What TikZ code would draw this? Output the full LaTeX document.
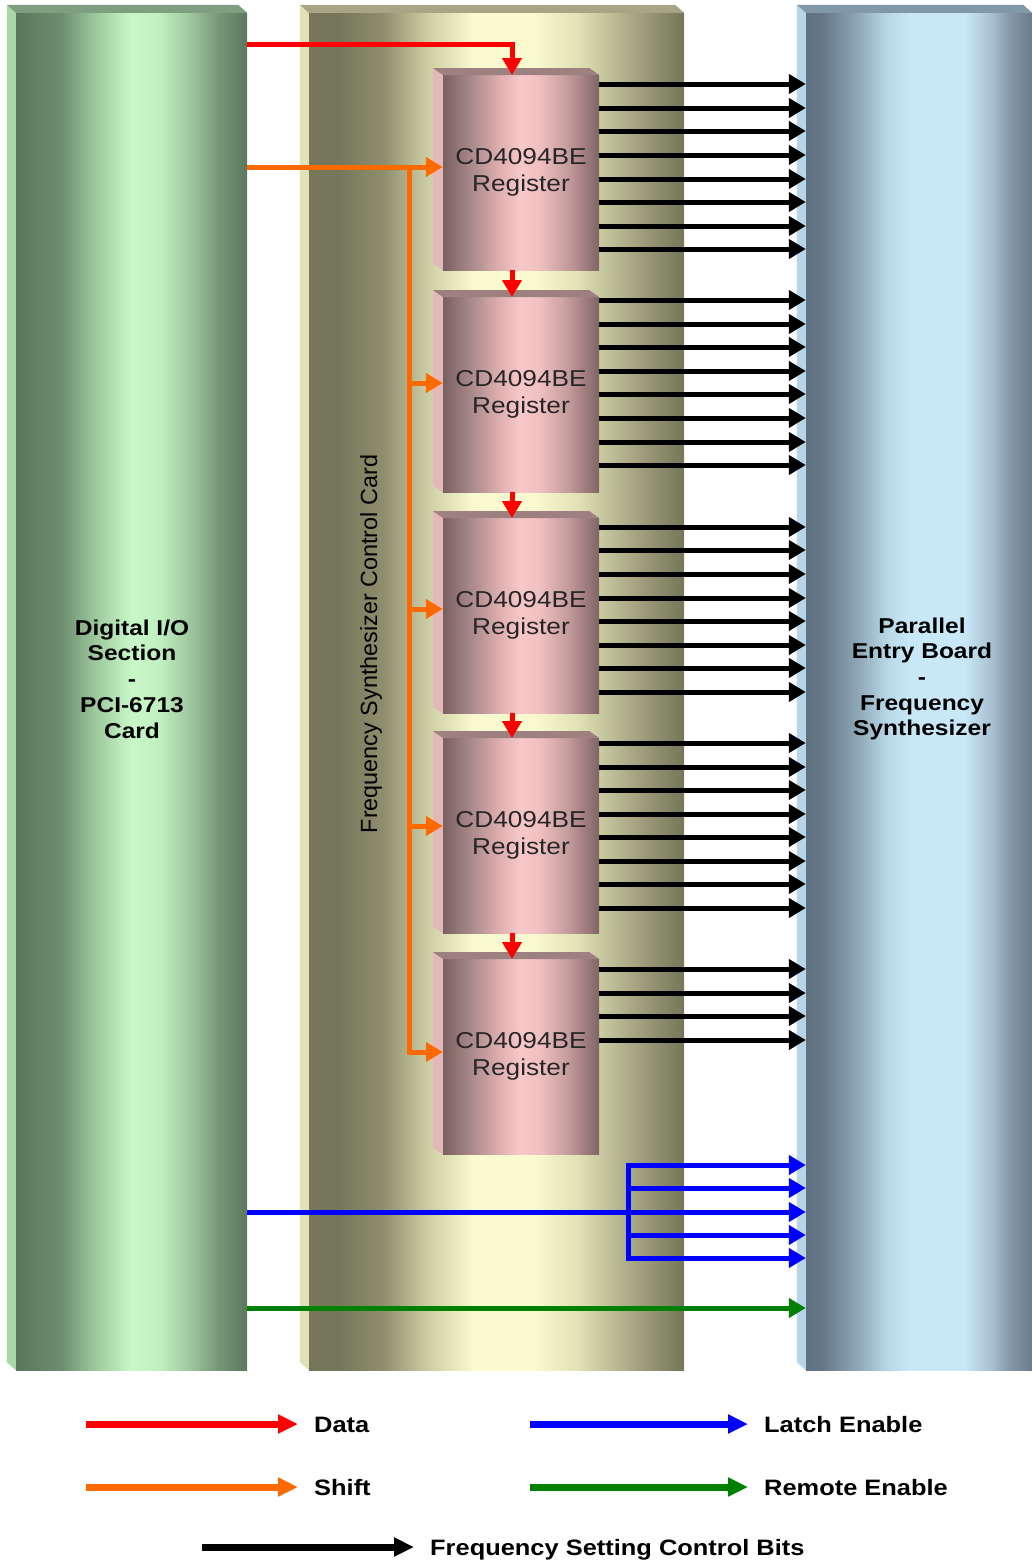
\documentclass[tikz,border=0pt]{standalone}
\usepackage{fontspec}
\setmainfont{Liberation Sans}
\newfontfamily\widesans[FakeStretch=1.14]{Liberation Sans}
\usepackage{tikz}
\usetikzlibrary{positioning}
\usetikzlibrary{calc}
\usetikzlibrary{arrows.meta}

% wire colours
\definecolor{datared}{HTML}{FF0000}
\definecolor{shiftorange}{HTML}{FF6A00}
\definecolor{latchblue}{HTML}{0000FF}
\definecolor{remotegreen}{HTML}{008000}

% bar colours
\definecolor{g1}{HTML}{5A765C}\definecolor{g2}{HTML}{6E8E70}\definecolor{g3}{HTML}{9CC89C}
\definecolor{g4}{HTML}{C8F8C8}\definecolor{g5}{HTML}{C0F0C0}\definecolor{g6}{HTML}{9CC49C}
\definecolor{g6b}{HTML}{749676}\definecolor{g7}{HTML}{5C785E}
\definecolor{gside}{HTML}{A8D8A8}\definecolor{gtop}{HTML}{7E9E80}
\definecolor{y1}{HTML}{76765A}\definecolor{y2}{HTML}{8F8F6F}\definecolor{y3}{HTML}{CFCFA6}
\definecolor{y5}{HTML}{FAFAD0}\definecolor{y6}{HTML}{E0E0B4}
\definecolor{y7}{HTML}{B0B08C}\definecolor{y8}{HTML}{8A8A6C}\definecolor{y9}{HTML}{757558}
\definecolor{yside}{HTML}{E2E2B6}\definecolor{ytop}{HTML}{A6A686}
\definecolor{b1}{HTML}{5F7080}\definecolor{b1b}{HTML}{687A8A}\definecolor{b2}{HTML}{8CA4B4}
\definecolor{b3}{HTML}{B8D8E8}\definecolor{b4}{HTML}{C8E8F8}\definecolor{b6}{HTML}{A8C0D0}
\definecolor{b6b}{HTML}{8498A8}\definecolor{b7}{HTML}{6A7C8C}
\definecolor{bside}{HTML}{B8D4E8}\definecolor{btop}{HTML}{8098A8}
\definecolor{r1}{HTML}{7A6060}\definecolor{r2}{HTML}{A88888}\definecolor{r3}{HTML}{E0B0B0}
\definecolor{r4}{HTML}{F8C8C8}\definecolor{r5}{HTML}{F0C0C0}\definecolor{r6}{HTML}{C09898}
\definecolor{r7}{HTML}{806464}\definecolor{rside}{HTML}{E4B8B8}\definecolor{rtop}{HTML}{9E8080}

\pgfdeclarehorizontalshading{greenbar}{100bp}{color(0bp)=(g1); color(25bp)=(g1); color(35bp)=(g2);
  color(42bp)=(g3); color(50bp)=(g4); color(56bp)=(g5); color(63bp)=(g6); color(69bp)=(g6b);
  color(75bp)=(g7); color(100bp)=(g7)}
\pgfdeclarehorizontalshading{cardbar}{100bp}{color(0bp)=(y1); color(25bp)=(y1); color(29bp)=(y1);
  color(35bp)=(y2); color(41bp)=(y3); color(47bp)=(y5); color(55bp)=(y5); color(61bp)=(y6);
  color(67bp)=(y7); color(72bp)=(y8); color(75bp)=(y9); color(100bp)=(y9)}
\pgfdeclarehorizontalshading{bluebar}{100bp}{color(0bp)=(b1); color(25bp)=(b1); color(29bp)=(b1b);
  color(36bp)=(b2); color(43bp)=(b3); color(48bp)=(b4); color(60bp)=(b4); color(66bp)=(b6);
  color(70bp)=(b6b); color(75bp)=(b7); color(100bp)=(b7)}
\pgfdeclarehorizontalshading{regbar}{100bp}{color(0bp)=(r1); color(25bp)=(r1); color(33.7bp)=(r2);
  color(43.3bp)=(r3); color(49.7bp)=(r4); color(56bp)=(r5); color(65.7bp)=(r6); color(75bp)=(r7); color(100bp)=(r7)}

% left and top faces of a box node: node, dx, dy, side colour, top colour
\newcommand{\depthfaces}[5]{%
  \fill[#4] (#1.north west) -- ++(-#2,-#3) -- ($(#1.south west)+(-#2,-#3)$) -- (#1.south west) -- cycle;
  \fill[#5] (#1.north west) -- ++(-#2,-#3) -- ($(#1.north east)+(-#2,-#3)$) -- (#1.north east) -- cycle;
}

\begin{document}
\begin{tikzpicture}[x=1pt, y=-1pt,
    bar/.style={rectangle, draw=none, inner sep=0pt, shade, minimum height=1357pt},
    reg/.style={rectangle, draw=none, inner sep=0pt, shade, shading=regbar,
        minimum width=156pt, minimum height=195pt, align=center, text=black!85,
        font=\widesans\fontsize{23}{27}\selectfont},
    bartext/.style={align=center, font=\widesans\bfseries\fontsize{21.5}{25.7}\selectfont},
    wire/.style={line width=5pt, -{Triangle[length=17pt, width=19pt]}},
    datawire/.style={wire, draw=datared},
    shiftwire/.style={wire, draw=shiftorange},
    latchwire/.style={wire, draw=latchblue},
    remotewire/.style={wire, draw=remotegreen},
    bitwire/.style={wire, draw=black},
    keyline/.style={line width=7pt, -{Triangle[length=20pt, width=18pt]}, shorten >=14pt},
    keytext/.style={anchor=west, inner sep=2pt, text height=16pt, text depth=0pt,
        font=\widesans\bfseries\fontsize{22.3}{26}\selectfont}
]
\useasboundingbox (0,0) rectangle (1032,1561);

% bars
\node[bar, shading=greenbar, minimum width=231pt] (dio) at (131.5,691.5) {};
\node[bar, shading=cardbar, minimum width=375pt] (fsc) at (496.5,691.5) {};
\node[bar, shading=bluebar, minimum width=226pt] (peb) at (919,691.5) {};
\depthfaces{dio}{9}{8}{gside}{gtop}
\depthfaces{fsc}{9}{8}{yside}{ytop}
\depthfaces{peb}{9}{8}{bside}{btop}

\node[bartext] (diotext) at (132,679) {Digital I/O\\Section\\-\\PCI-6713\\Card};
\node[bartext] (pebtext) at (922,679) {Parallel\\Entry Board\\-\\Frequency\\Synthesizer};
\node[rotate=90, font=\fontsize{23.4}{27}\selectfont] (fsctext) at (371,644) {Frequency Synthesizer Control Card};

% registers
\foreach \i/\t in {1/75, 2/297, 3/518, 4/738, 5/959}{
    \node[reg, anchor=north] (reg\i) at (521,\t) {CD4094BE\\Register};
    \depthfaces{reg\i}{10}{7}{rside}{rtop}
}

% data
\coordinate (d0) at (dio.east |- 0,44);
\draw[datawire] (d0) -| ($(reg1.north)+(-9,0)$);
\foreach \i/\j in {1/2, 2/3, 3/4, 4/5}
    \draw[datawire] ($(reg\i.south)+(-9,0)$) -- ($(reg\j.north)+(-9,0)$);

% shift
\coordinate (s0) at (dio.east |- 0,167);
\coordinate (s1) at (409,167);
\draw[shiftwire] (s0) -- (s0 -| reg1.west);
\foreach \i/\y in {2/383, 3/609, 4/826, 5/1052}{
    \coordinate (s\i) at (409,\y);
    \draw[shiftwire] (s\i) -- (s\i -| reg\i.west);
}
\draw[shiftwire, -, line cap=rect] (s1) -- (s5);

% bits
\foreach \i/\ys in {1/{84,108,131,155,179,202,226,249},
                    2/{300,324,347,371,394,418,442,465},
                    3/{527,550,574,598,621,645,668,692},
                    4/{743,767,790,814,837,861,884,908},
                    5/{969,993,1016,1040}}
    \foreach \y in \ys
        \draw[bitwire] (reg\i.east |- 0,\y) -- (peb.west |- 0,\y);

% latch
\coordinate (l0) at (dio.east |- 0,1212);
\coordinate (lt) at (628,1165);
\coordinate (lb) at (628,1258);
\draw[latchwire] (l0) -- (l0 -| peb.west);
\draw[latchwire, -, line cap=rect] (lt) -- (lb);
\foreach \y in {1165,1188,1235,1258}
    \draw[latchwire] (lt |- 0,\y) -- (peb.west |- 0,\y);

% remote
\coordinate (r0) at (dio.east |- 0,1308);
\draw[remotewire] (r0) -- (r0 -| peb.west);

% key
\node[keytext] (kdata) at (312,1424) {Data};
\node[keytext] (kshift) at (312,1487) {Shift};
\node[keytext] (klatch) at (762,1424) {Latch Enable};
\node[keytext] (kremote) at (762,1487) {Remote Enable};
\node[keytext] (kbits) at (428,1547) {Frequency Setting Control Bits};
\draw[keyline, draw=datared] ($(kdata.west)+(-226,0)$) -- (kdata.west);
\draw[keyline, draw=shiftorange] ($(kshift.west)+(-226,0)$) -- (kshift.west);
\draw[keyline, draw=latchblue] ($(klatch.west)+(-232,0)$) -- (klatch.west);
\draw[keyline, draw=remotegreen] ($(kremote.west)+(-232,0)$) -- (kremote.west);
\draw[keyline, draw=black] ($(kbits.west)+(-226,0)$) -- (kbits.west);
\end{tikzpicture}
\end{document}
